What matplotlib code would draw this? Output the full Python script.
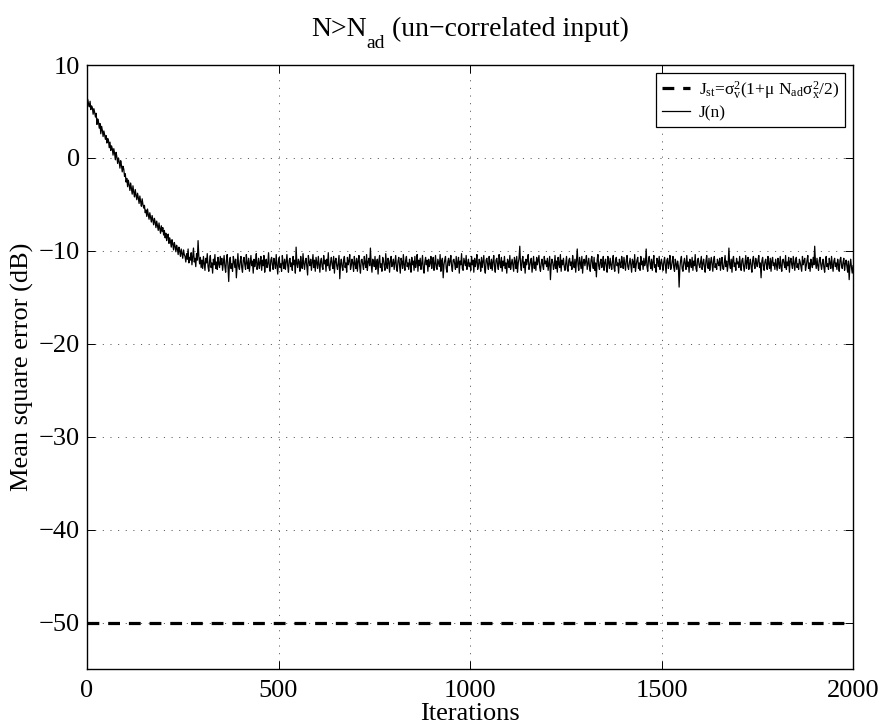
import numpy as np
import matplotlib
matplotlib.use('Agg')
import matplotlib.pyplot as plt

plt.rcParams['font.family'] = ['Liberation Serif', 'DejaVu Serif']
plt.rcParams['mathtext.fontset'] = 'custom'
plt.rcParams['mathtext.rm'] = 'Liberation Serif'
plt.rcParams['mathtext.it'] = 'Liberation Serif'
plt.rcParams['lines.scale_dashes'] = False

# learning curve J(n) in dB, every 2 iterations
step = 2
j_transient = [  # iterations 0..298
    5.9, 6.3, 5.8, 5.5, 6.1, 5.2, 5.6, 5.4, 4.7, 5.3, 4.9, 4.4, 4.8, 3.6, 4.2, 3.9, 3.2, 3.7, 2.6, 3.4, 3.0, 2.3, 2.9, 2.5, 2.0,
    2.4, 1.6, 2.1, 1.9, 1.1, 1.7, 0.8, 1.3, 1.0, 0.3, 1.0, 0.5, -0.2, 0.6, 0.1, -0.6, 0.0, -0.4, -1.1, -0.3, -0.8, -1.5, -0.9, -1.2, -2.0,
    -1.7, -2.6, -2.2, -3.1, -2.4, -2.9, -3.5, -2.7, -3.3, -3.9, -3.0, -3.7, -4.2, -3.4, -4.0, -4.5, -3.8, -4.3, -4.9, -4.1, -4.7, -5.2, -4.4, -5.0, -5.4,
    -5.1, -5.9, -5.6, -6.3, -5.5, -6.1, -6.6, -5.9, -6.4, -6.9, -6.2, -6.7, -7.2, -6.5, -6.9, -7.5, -6.8, -7.3, -7.8, -7.0, -7.6, -8.1, -7.3, -7.9, -7.5,
    -8.3, -7.8, -8.6, -8.1, -8.9, -8.4, -8.2, -9.2, -8.6, -9.0, -9.6, -8.8, -9.3, -9.9, -9.1, -9.5, -10.1, -9.4, -9.8, -10.4, -9.6, -10.0, -10.6, -9.8, -10.3,
    -10.8, -9.9, -10.4, -10.6, -11.2, -10.3, -10.9, -9.8, -11.3, -10.7, -11.0, -10.2, -11.5, -10.6, -9.7, -11.2, -10.8, -11.7, -10.3, -11.0, -8.9, -10.6, -11.4, -10.7, -11.8,
]
j_steady = [  # iterations 300..2000
    -11.0, -11.9, -10.6, -11.4, -12.1, -10.8, -11.3, -10.3, -11.7, -12.2, -11.1, -10.5, -11.8, -11.3, -12.4, -10.9, -11.5, -10.4, -11.9, -11.2, -12.0, -10.7, -11.4, -11.8, -10.6,
    -11.5, -10.8, -12.1, -11.3, -10.5, -11.7, -12.3, -11.0, -10.4, -11.6, -13.3, -11.2, -10.7, -11.9, -11.4, -12.2, -10.6, -11.1, -11.8, -10.9, -12.9, -11.5, -10.3, -11.7, -12.0,
    -11.1, -10.6, -11.8, -12.3, -11.0, -10.7, -11.5, -12.0, -10.4, -11.3, -11.9, -10.8, -12.2, -11.4, -10.5, -11.6, -11.1, -12.4, -10.9, -11.7, -11.2, -10.3, -12.0, -11.5, -10.8,
    -11.9, -11.3, -10.6, -12.1, -11.0, -11.6, -10.5, -12.3, -11.2, -10.9, -11.8, -11.4, -10.2, -11.7, -12.2, -11.0, -10.7, -11.5, -12.0, -10.8, -11.3, -11.9, -10.4, -11.6, -12.5,
    -11.1, -10.7, -11.8, -11.4, -12.2, -10.5, -11.3, -11.9, -10.9, -12.0, -11.2, -10.4, -11.6, -12.3, -11.0, -10.8, -11.7, -11.3, -12.1, -10.6, -11.5, -11.0, -12.4, -9.6, -11.4,
    -11.8, -10.9, -11.2, -12.2, -10.6, -11.5, -11.9, -10.3, -11.4, -12.0, -11.1, -10.8, -11.7, -12.6, -10.5, -11.2, -11.6, -10.9, -12.1, -11.3, -10.4, -11.8, -11.0, -12.2, -10.7,
    -11.3, -11.9, -10.6, -11.5, -12.3, -11.1, -10.8, -11.7, -12.0, -10.5, -11.4, -11.0, -12.2, -10.9, -11.6, -10.2, -11.8, -12.1, -11.2, -10.7, -11.5, -11.9, -10.6, -12.4, -11.1,
    -10.8, -11.6, -12.0, -11.2, -10.5, -13.0, -11.4, -10.9, -11.7, -12.1, -11.0, -10.6, -11.8, -11.3, -12.3, -10.7, -11.5, -11.1, -10.4, -12.0, -11.6, -10.9, -11.3, -12.2, -10.6,
    -11.4, -11.9, -10.8, -12.2, -11.1, -10.5, -11.7, -12.4, -11.0, -10.9, -11.5, -12.0, -10.6, -11.3, -11.8, -10.4, -12.1, -11.2, -10.8, -11.6, -9.7, -11.4, -12.3, -10.9, -11.1,
    -11.7, -10.6, -12.0, -11.3, -10.9, -12.5, -11.1, -10.5, -11.8, -11.4, -12.2, -10.7, -11.0, -11.6, -12.1, -10.3, -11.5, -11.9, -10.8, -11.2, -12.3, -11.0, -10.6, -11.7, -11.4,
    -10.9, -12.0, -11.3, -10.5, -11.8, -12.2, -11.1, -10.7, -11.6, -12.4, -10.8, -11.2, -11.9, -10.4, -11.5, -12.1, -11.0, -10.6, -11.7, -11.3, -12.0, -10.9, -11.4, -12.3, -10.7,
    -11.5, -11.1, -12.1, -10.6, -11.8, -11.3, -10.4, -12.2, -11.0, -11.6, -10.8, -12.0, -11.4, -10.5, -11.9, -12.4, -11.2, -10.7, -11.5, -11.0, -12.2, -10.9, -11.7, -11.3, -10.6,
    -11.9, -11.2, -10.7, -12.1, -11.4, -10.5, -11.8, -12.0, -10.9, -11.3, -11.7, -10.4, -12.2, -11.1, -10.8, -12.9, -11.5, -11.0, -10.6, -11.9, -12.3, -11.2, -10.8, -11.6, -11.1,
    -10.5, -11.7, -12.2, -11.0, -10.9, -11.4, -12.0, -10.6, -11.8, -11.3, -10.7, -12.4, -11.1, -11.5, -10.3, -11.9, -12.1, -10.8, -11.2, -11.6, -10.5, -12.0, -11.4, -10.9, -11.7,
    -11.3, -12.1, -10.6, -11.5, -11.0, -12.3, -10.8, -11.7, -11.2, -10.4, -12.0, -11.6, -10.9, -11.3, -12.2, -10.7, -11.8, -11.1, -10.5, -11.9, -12.4, -11.0, -10.8, -11.5, -12.0,
    -10.6, -11.4, -11.9, -10.9, -12.1, -11.2, -10.5, -11.7, -12.3, -11.0, -10.8, -11.5, -12.0, -10.4, -11.3, -11.8, -10.7, -12.2, -11.1, -11.6, -10.6, -11.9, -11.3, -12.4, -10.9,
    -11.2, -11.8, -10.5, -12.0, -11.4, -10.9, -11.6, -12.2, -10.7, -11.1, -11.9, -10.6, -12.3, -11.3, -10.8, -9.5, -11.5, -12.1, -11.0, -10.6, -11.8, -11.2, -12.4, -10.9, -11.5,
    -11.0, -10.4, -12.0, -11.6, -11.1, -10.8, -12.3, -11.4, -10.6, -11.9, -11.2, -12.1, -10.7, -11.5, -11.0, -10.5, -11.8, -12.2, -11.3, -10.9, -11.6, -12.0, -10.6, -11.4, -11.1,
    -11.7, -10.8, -12.1, -11.3, -10.6, -13.1, -11.5, -10.9, -11.2, -12.0, -11.6, -10.5, -11.9, -11.1, -12.3, -10.7, -11.4, -11.8, -10.4, -12.2, -11.0, -11.5, -10.8, -11.7, -12.1,
    -11.3, -10.6, -11.9, -12.2, -11.0, -10.8, -11.6, -11.2, -12.0, -10.5, -11.4, -11.8, -10.9, -12.3, -11.1, -9.8, -11.5, -12.1, -10.7, -11.3, -11.9, -10.6, -12.4, -11.2, -10.9,
    -11.6, -11.1, -10.5, -12.0, -11.4, -10.8, -11.7, -12.2, -11.0, -10.6, -11.5, -11.9, -10.7, -12.1, -11.3, -12.8, -11.0, -10.4, -11.6, -12.0, -11.2, -10.9, -11.8, -11.4, -10.6,
    -12.1, -11.3, -10.9, -11.7, -12.3, -10.6, -11.2, -11.9, -10.8, -11.5, -12.0, -11.1, -10.5, -11.8, -12.2, -11.0, -10.7, -11.6, -11.3, -12.4, -10.9, -11.4, -11.8, -10.6, -11.2,
    -11.9, -10.7, -11.4, -12.1, -11.0, -10.5, -11.7, -12.0, -11.3, -10.8, -11.6, -12.3, -10.9, -11.2, -11.8, -10.4, -12.2, -11.5, -11.0, -10.7, -11.9, -11.3, -12.1, -10.6, -11.5,
    -11.1, -12.0, -10.8, -11.6, -11.3, -9.8, -11.7, -12.2, -11.0, -10.6, -11.4, -11.9, -10.9, -12.1, -11.2, -10.5, -11.8, -11.5, -12.3, -10.8, -11.1, -11.7, -10.6, -12.0, -11.3,
    -10.9, -11.6, -12.1, -11.2, -10.7, -11.5, -12.4, -11.0, -10.8, -11.9, -11.3, -10.5, -12.0, -11.7, -11.1, -10.6, -11.8, -12.2, -10.9, -11.4, -12.0, -11.1, -11.6, -13.9, -11.8,
    -11.0, -10.6, -11.9, -12.2, -11.3, -10.8, -11.5, -12.0, -10.5, -11.7, -11.2, -12.3, -10.9, -11.4, -11.8, -10.7, -12.1, -11.1, -11.6, -10.4, -11.9, -12.2, -11.0, -10.8, -11.5,
    -11.8, -11.2, -10.6, -12.0, -11.4, -10.9, -11.7, -12.3, -11.1, -10.5, -11.6, -11.9, -10.8, -12.1, -11.3, -10.7, -11.5, -12.2, -11.0, -10.6, -11.8, -11.4, -12.0, -10.9, -11.3,
    -11.6, -10.8, -12.1, -11.2, -10.7, -11.9, -12.0, -11.3, -10.5, -11.7, -11.1, -12.2, -11.4, -9.7, -11.5, -11.9, -10.9, -12.3, -11.0, -10.6, -11.7, -11.3, -12.1, -10.8, -11.4,
    -11.2, -11.8, -10.6, -11.5, -12.1, -11.0, -10.8, -11.6, -12.2, -11.3, -10.5, -11.9, -11.1, -10.7, -12.0, -11.4, -10.9, -11.7, -12.3, -11.0, -10.6, -11.5, -11.9, -10.8, -11.3,
    -11.7, -11.0, -10.5, -11.8, -11.3, -12.9, -11.1, -10.7, -11.6, -12.1, -11.2, -10.9, -11.5, -12.0, -10.6, -11.4, -11.9, -10.8, -12.2, -11.1, -10.7, -11.6, -11.3, -12.0, -10.9,
    -11.5, -12.1, -10.8, -11.3, -11.9, -10.6, -11.7, -12.2, -11.0, -10.9, -11.4, -11.8, -10.5, -12.0, -11.2, -11.6, -10.7, -12.3, -11.1, -10.8, -11.5, -11.9, -10.6, -11.3, -12.1,
    -11.0, -10.7, -11.8, -11.4, -12.0, -10.9, -11.2, -11.7, -12.2, -10.6, -11.5, -11.1, -10.8, -12.1, -11.6, -11.0, -10.5, -11.9, -11.3, -12.2, -10.9, -11.4, -11.8, -10.7, -11.5,
    -9.5, -11.2, -11.9, -10.8, -11.6, -12.1, -11.0, -10.7, -11.5, -12.0, -11.3, -10.9, -11.8, -12.3, -11.1, -10.6, -11.7, -11.4, -12.0, -10.8, -11.3, -11.9, -10.6, -11.5, -12.2,
    -11.1, -10.8, -11.7, -11.3, -12.0, -10.9, -11.5, -12.2, -11.0, -10.7, -11.6, -11.9, -11.2, -10.8, -12.1, -11.4, -11.0, -11.7, -12.3, -11.1, -13.1, -11.6, -10.9, -11.8, -12.4,
    -11.6,
]
j_db = j_transient + j_steady
iters = np.arange(len(j_db)) * step

# steady state level J_st in dB
x_span = [0, 2000]
j_st_db = -50.0

x_ticks = [0, 500, 1000, 1500, 2000]
y_ticks = [-50, -40, -30, -20, -10, 0, 10]

W, H = 884, 727
fig = plt.figure(figsize=(W / 100, H / 100), dpi=100)
ax = fig.add_axes([87 / W, 1 - 669 / H, 766 / W, 604 / H])

ax.plot(x_span, [j_st_db, j_st_db], color='k', lw=2.3, linestyle=(0, (8.5, 6.4)),
        label=r'J$_{\rm st}$=σ$_{\rm v}^{2}$(1+μ N$_{\rm ad}$σ$_{\rm x}^{2}$/2)')
ax.plot(iters, j_db, color='k', lw=0.9, label='J(n)')

ax.set_xlim(0, 2000)
ax.set_ylim(-55, 10)
ax.set_xticks(x_ticks)
ax.set_yticks(y_ticks)
ax.grid(True, color='#444444', linestyle=(0, (0.8, 4.7)), linewidth=0.6)
ax.tick_params(direction='in', length=5.5, width=0.7, top=True, right=True, labelsize=19)
ax.tick_params(axis='x', pad=8)
ax.tick_params(axis='y', pad=5)
for s in ax.spines.values():
    s.set_linewidth(1.0)

ax.set_xlabel('Iterations', fontsize=19)
ax.xaxis.set_label_coords(0.5, -(703 - 669) / 604)
ax.set_ylabel('Mean square error (dB)', fontsize=19)
ax.yaxis.set_label_coords(-(87 - 34) / 766, 0.5)

# title written in pieces so the subscript sits low, as in the original
title_parts = [('N>N', 20, 0), ('ad', 14, -12), (' (un−correlated input)', 20, 0)]
base_y = 1 - 36 / H
renderer = fig.canvas.get_renderer()
parts = []
for txt, size, dy in title_parts:
    t = fig.text(0, base_y + dy / H, txt, fontsize=size, va='baseline', ha='left')
    parts.append((t, t.get_window_extent(renderer).width))
total = sum(w for _, w in parts)
x0 = (87 + 853) / 2 - total / 2
for t, w in parts:
    t.set_x(x0 / W)
    x0 += w

leg = ax.legend(loc='upper right', fontsize=12.5, frameon=True, fancybox=False,
                framealpha=1, edgecolor='k', handlelength=1.6, handletextpad=0.5,
                borderaxespad=0.45, borderpad=0.35, labelspacing=0.25)
leg.get_frame().set_linewidth(0.9)

fig.savefig('out.png', dpi=100)
